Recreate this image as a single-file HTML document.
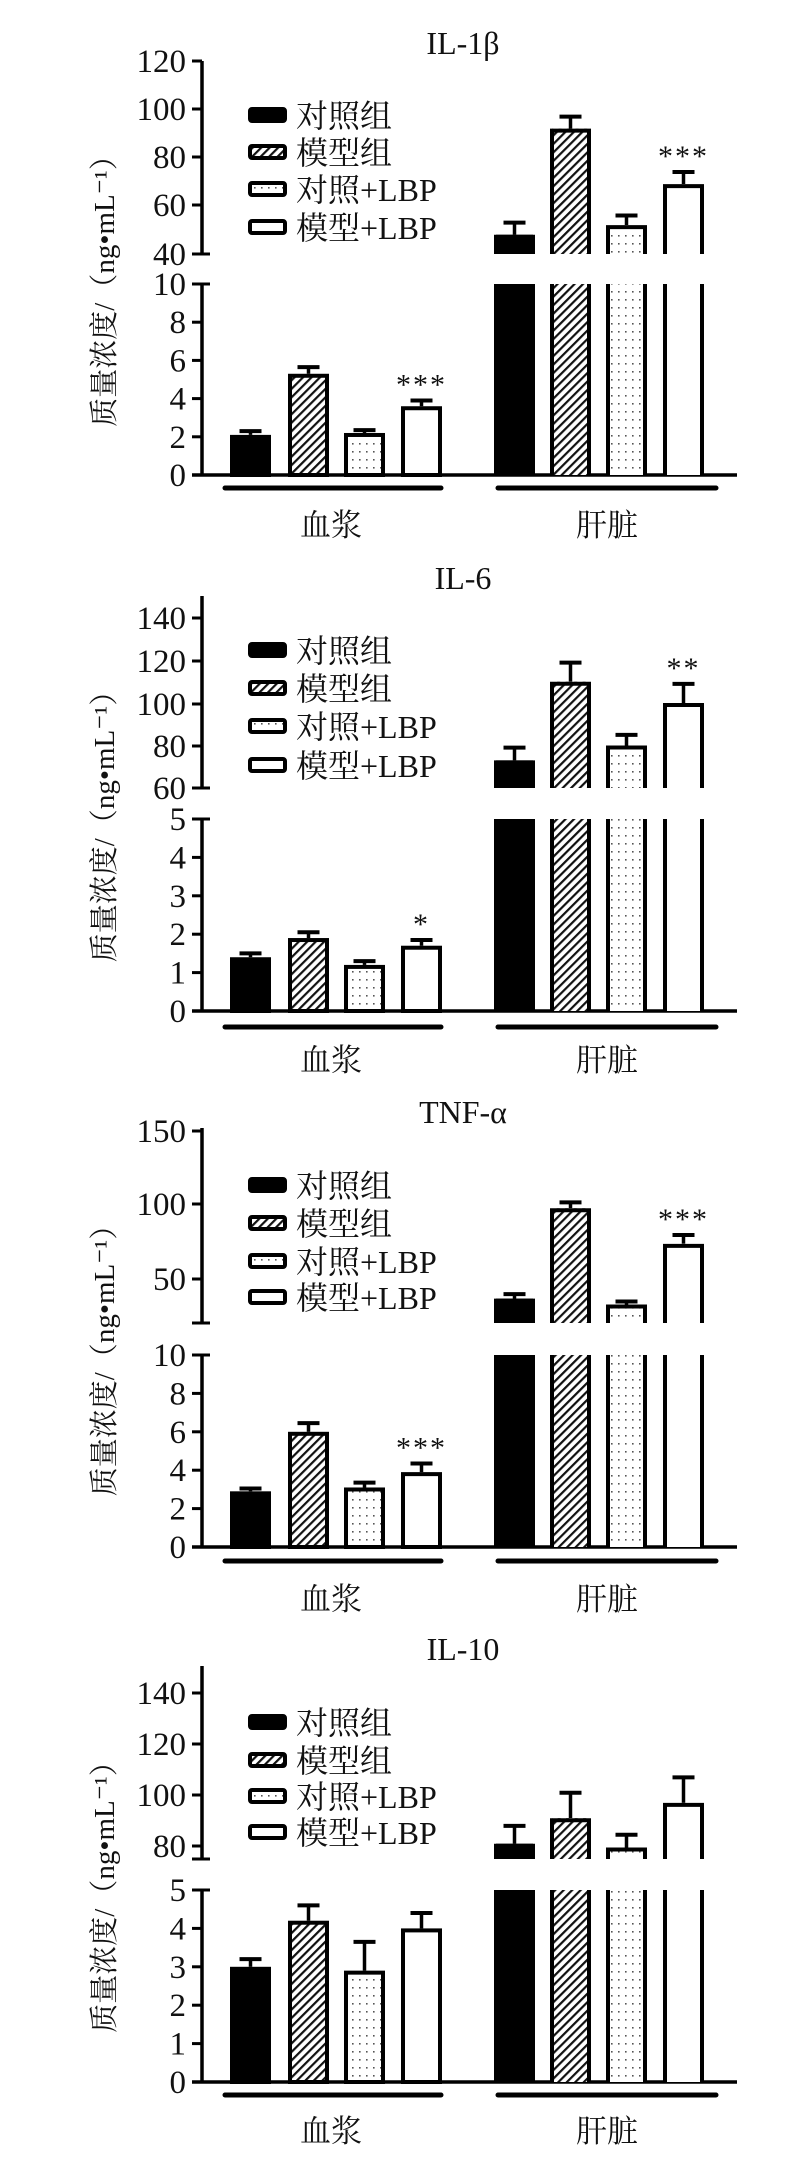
<!DOCTYPE html>
<html><head><meta charset="utf-8">
<style>
html,body{margin:0;padding:0;background:#fff;}
svg{display:block;}
text{font-family:"Liberation Serif","Noto Serif CJK SC","Noto Sans CJK SC",serif;fill:#111;}
</style></head>
<body>
<svg id="s" xmlns="http://www.w3.org/2000/svg" width="790" height="2162" viewBox="0 0 790 2162">
<defs>
<pattern id="hatch" patternUnits="userSpaceOnUse" width="6" height="6" patternTransform="rotate(45)">
<rect width="6" height="6" fill="#fff"/><rect x="0" y="0" width="2.2" height="6" fill="#111"/>
</pattern>
<pattern id="dots" patternUnits="userSpaceOnUse" width="7" height="8">
<rect width="7" height="8" fill="#fff"/><rect x="2" y="3" width="1.6" height="1.6" fill="#555"/>
</pattern>
</defs>
</svg>
<script>
var S=document.getElementById('s'),NS='http://www.w3.org/2000/svg';
function el(t,a,txt){var e=document.createElementNS(NS,t);for(var k in a)e.setAttribute(k,a[k]);if(txt!==undefined)e.textContent=txt;S.appendChild(e);return e;}
var fills=['#000','url(#hatch)','url(#dots)','#fff'];
var xs=[[230,288,344,401],[494,550,606,663]];var bw=41;
var labels=['对照组','模型组','对照+LBP','模型+LBP'];
var P=[
{title:'IL-1β',ty:54,top:61,uTicks:[[120,61],[100,109],[80,157],[60,205],[40,254]],uMin:40,uMinY:254,uScale:2.41,
 lTop:284,lMax:10,lTicks:[0,2,4,6,8,10],zero:475,lScale:19.1,gl:488,lab:536,leg:[115,152,189,227],
 plasma:[[2.1,.2],[5.3,.35],[2.2,.15],[3.6,.3]],liver:[[48,5],[92,5],[52,4],[69,5]],sp:'***',sl:'***'},
{title:'IL-6',ty:589,top:596,uTicks:[[140,618],[120,661],[100,704],[80,746],[60,788]],uMin:60,uMinY:788,uScale:2.125,
 lTop:819,lMax:5,lTicks:[0,1,2,3,4,5],zero:1011,lScale:38.4,gl:1027,lab:1071,leg:[650,688,726,765],
 plasma:[[1.4,.1],[1.9,.15],[1.2,.1],[1.7,.15]],liver:[[73,6],[110,9],[80,5],[100,9]],sp:'*',sl:'**'},
{title:'TNF-α',ty:1123,top:1128,uTicks:[[150,1131],[100,1204],[50,1279]],uMin:20.5,uMinY:1323,uScale:1.48,
 lTop:1355,lMax:10,lTicks:[0,2,4,6,8,10],zero:1547,lScale:19.2,gl:1561,lab:1610,leg:[1185,1223,1261,1297],
 plasma:[[2.9,.15],[6.0,.45],[3.1,.25],[3.9,.45]],liver:[[37,3],[98,4],[33,2],[74,6]],sp:'***',sl:'***'},
{title:'IL-10',ty:1660,top:1666,uTicks:[[140,1693],[120,1744],[100,1795],[80,1846]],uMin:75,uMinY:1859,uScale:2.55,
 lTop:1890,lMax:5,lTicks:[0,1,2,3,4,5],zero:2082,lScale:38.4,gl:2095,lab:2142,leg:[1722,1760,1796,1832],
 plasma:[[3.0,.2],[4.2,.4],[2.9,.75],[4.0,.4]],liver:[[81,7],[91,10],[79.5,5],[97,10]],sp:'',sl:''}
];
P.forEach(function(p){
  el('text',{x:463,y:p.ty,'font-size':32,'text-anchor':'middle'},p.title);
  el('line',{x1:202,y1:p.top,x2:202,y2:p.uMinY,stroke:'#000','stroke-width':3.5});
  el('line',{x1:202,y1:p.lTop,x2:202,y2:p.zero,stroke:'#000','stroke-width':3.5});
  el('line',{x1:192,y1:p.uMinY,x2:210,y2:p.uMinY,stroke:'#000','stroke-width':3});
  el('line',{x1:192,y1:p.lTop,x2:210,y2:p.lTop,stroke:'#000','stroke-width':3});
  el('line',{x1:192,y1:p.zero,x2:737,y2:p.zero,stroke:'#000','stroke-width':3.5});
  p.uTicks.forEach(function(t){
    el('line',{x1:192,y1:t[1],x2:202,y2:t[1],stroke:'#000','stroke-width':3});
    el('text',{x:186,y:t[1]+11,'font-size':33,'text-anchor':'end'},t[0]);
  });
  p.lTicks.forEach(function(v){
    var y=p.zero-v*p.lScale;
    el('line',{x1:192,y1:y,x2:202,y2:y,stroke:'#000','stroke-width':3});
    el('text',{x:186,y:y+11,'font-size':33,'text-anchor':'end'},v);
  });
  var cy=(p.top+p.zero)/2+16;
  el('text',{x:0,y:0,'font-size':29,'text-anchor':'middle',transform:'translate(114,'+cy+') rotate(-90)'},'质量浓度/（ng•mL⁻¹）');
  p.plasma.forEach(function(d,i){
    var x=xs[0][i],yt=p.zero-d[0]*p.lScale,ye=p.zero-(d[0]+d[1])*p.lScale;
    el('line',{x1:x+bw/2,y1:yt,x2:x+bw/2,y2:ye,stroke:'#000','stroke-width':3.5});
    el('line',{x1:x+bw/2-11,y1:ye,x2:x+bw/2+11,y2:ye,stroke:'#000','stroke-width':4});
    el('rect',{x:x+2,y:yt+2,width:bw-4,height:p.zero-yt-2,fill:fills[i],stroke:'#000','stroke-width':4});
  });
  p.liver.forEach(function(d,i){
    var x=xs[1][i],yt=p.uMinY-(d[0]-p.uMin)*p.uScale,ye=p.uMinY-(d[0]+d[1]-p.uMin)*p.uScale;
    el('line',{x1:x+bw/2,y1:yt,x2:x+bw/2,y2:ye,stroke:'#000','stroke-width':3.5});
    el('line',{x1:x+bw/2-11,y1:ye,x2:x+bw/2+11,y2:ye,stroke:'#000','stroke-width':4});
    el('rect',{x:x+2,y:yt,width:bw-4,height:p.uMinY-yt,fill:fills[i]});
    el('path',{d:'M'+(x+2)+' '+p.uMinY+'V'+(yt+2)+'H'+(x+bw-2)+'V'+p.uMinY,fill:'none',stroke:'#000','stroke-width':4});
    el('rect',{x:x+2,y:p.lTop,width:bw-4,height:p.zero-p.lTop,fill:fills[i]});
    el('path',{d:'M'+(x+2)+' '+p.lTop+'V'+p.zero+'M'+(x+bw-2)+' '+p.lTop+'V'+p.zero,fill:'none',stroke:'#000','stroke-width':4});
    if(i==3&&p.sl) el('text',{x:x+bw/2,y:ye-6,'font-size':30,'text-anchor':'middle','letter-spacing':'2'},p.sl);
  });
  if(p.sp){var d=p.plasma[3],ye=p.zero-(d[0]+d[1])*p.lScale;
    el('text',{x:xs[0][3]+bw/2,y:ye-6,'font-size':30,'text-anchor':'middle','letter-spacing':'2'},p.sp);}
  p.leg.forEach(function(y,i){
    el('rect',{x:250,y:y-6,width:35,height:12,rx:2,fill:fills[i],stroke:'#000','stroke-width':4});
    el('text',{x:296,y:y+12,'font-size':32},labels[i]);
  });
  el('line',{x1:225,y1:p.gl,x2:441,y2:p.gl,stroke:'#000','stroke-width':5,'stroke-linecap':'round'});
  el('line',{x1:498,y1:p.gl,x2:716,y2:p.gl,stroke:'#000','stroke-width':5,'stroke-linecap':'round'});
  el('text',{x:331,y:p.lab,'font-size':31,'text-anchor':'middle',fill:'#333'},'血浆');
  el('text',{x:607,y:p.lab,'font-size':31,'text-anchor':'middle',fill:'#333'},'肝脏');
});
</script>
</body></html>
